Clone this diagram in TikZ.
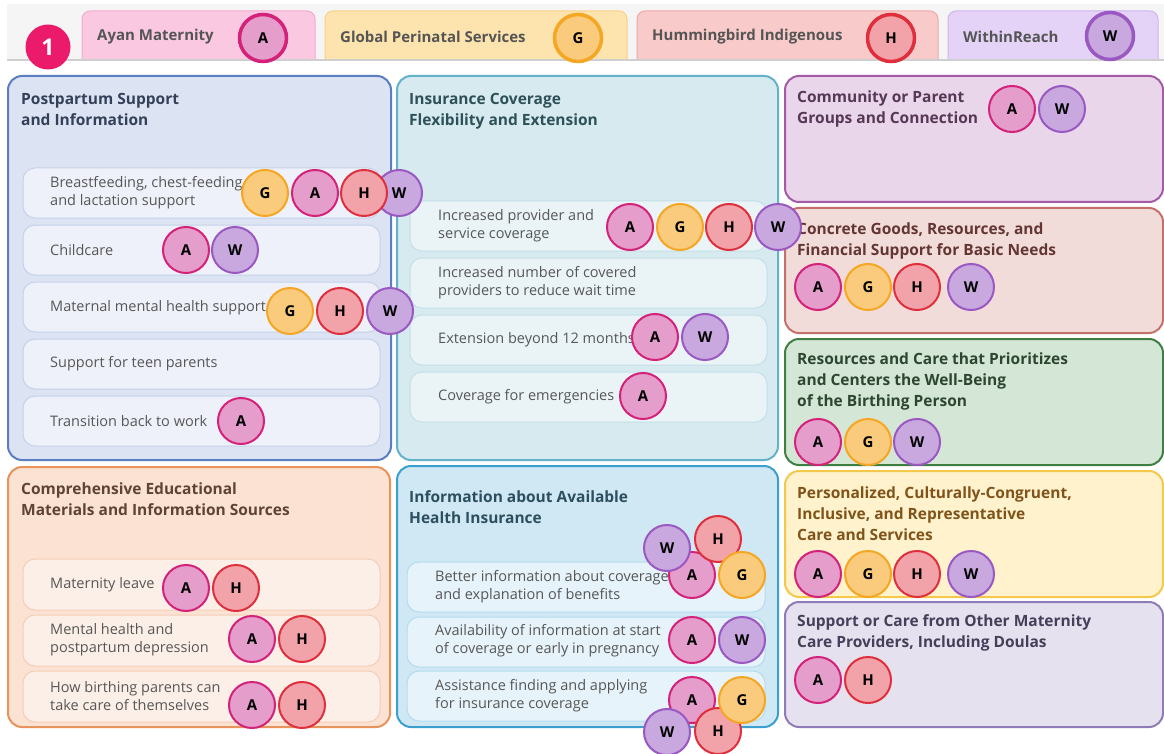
\documentclass[tikz,border=0pt]{standalone}
\usepackage{fontspec}
\setmainfont{Open Sans}

%% colours
\definecolor{bandgray}{HTML}{F5F5F5}
\definecolor{bandline}{HTML}{CFCFCF}
\definecolor{badge}{HTML}{EC1A6A}
\definecolor{itemgray}{HTML}{575757}
\definecolor{tabtext}{HTML}{555555}
%% organisation circles
\definecolor{fillA}{HTML}{E59DCB}
\definecolor{lineA}{HTML}{D42179}
\definecolor{fillG}{HTML}{FACB7C}
\definecolor{lineG}{HTML}{F5A623}
\definecolor{fillH}{HTML}{F2A3AA}
\definecolor{lineH}{HTML}{DF2F3D}
\definecolor{fillW}{HTML}{C8A8DE}
\definecolor{lineW}{HTML}{9A58C2}
%% tabs
\definecolor{tabA}{HTML}{FAC8E1}
\definecolor{tabAline}{HTML}{F4A9D0}
\definecolor{tabG}{HTML}{FDE4AE}
\definecolor{tabGline}{HTML}{F8D086}
\definecolor{tabH}{HTML}{F9CACA}
\definecolor{tabHline}{HTML}{F2A7A7}
\definecolor{tabW}{HTML}{E5D3F7}
\definecolor{tabWline}{HTML}{CEB5EE}
%% panels
\definecolor{ppFill}{HTML}{DCE3F2}
\definecolor{ppLine}{HTML}{5B7EC2}
\definecolor{ppItem}{HTML}{EEF1F9}
\definecolor{ppItemLine}{HTML}{C6D2EA}
\definecolor{ppText}{HTML}{34405A}
\definecolor{edFill}{HTML}{FBE2D2}
\definecolor{edLine}{HTML}{E8935B}
\definecolor{edItem}{HTML}{FCEFE7}
\definecolor{edItemLine}{HTML}{F3CEB7}
\definecolor{edText}{HTML}{5E4336}
\definecolor{icFill}{HTML}{D6EAF0}
\definecolor{icLine}{HTML}{63B2C8}
\definecolor{icItem}{HTML}{EAF4F7}
\definecolor{icItemLine}{HTML}{C4E0E8}
\definecolor{icText}{HTML}{2E5058}
\definecolor{hiFill}{HTML}{CFE8F4}
\definecolor{hiLine}{HTML}{3CA0CF}
\definecolor{hiItem}{HTML}{E6F3FA}
\definecolor{hiItemLine}{HTML}{B4DCEE}
\definecolor{hiText}{HTML}{2C4E5E}
\definecolor{cpFill}{HTML}{EAD6EA}
\definecolor{cpLine}{HTML}{A55AA8}
\definecolor{cpText}{HTML}{553855}
\definecolor{cgFill}{HTML}{F2DCDA}
\definecolor{cgLine}{HTML}{C4706B}
\definecolor{cgText}{HTML}{633633}
\definecolor{rcFill}{HTML}{D4E6D6}
\definecolor{rcLine}{HTML}{3F7F42}
\definecolor{rcText}{HTML}{2D4630}
\definecolor{pcFill}{HTML}{FFF2CC}
\definecolor{pcLine}{HTML}{F4C84A}
\definecolor{pcText}{HTML}{80531A}
\definecolor{scFill}{HTML}{E6E1EE}
\definecolor{scLine}{HTML}{8F7BB6}
\definecolor{scText}{HTML}{45405A}

\tikzset{
  org/.style={circle, minimum size=46pt, inner sep=0pt, line width=2pt,
    font=\bfseries\fontsize{15}{15}\selectfont, text=black},
  orgA/.style={org, draw=lineA, fill=fillA},
  orgG/.style={org, draw=lineG, fill=fillG},
  orgH/.style={org, draw=lineH, fill=fillH},
  orgW/.style={org, draw=lineW, fill=fillW},
  keyorg/.style={minimum size=47pt, line width=3.5pt},
  panel/.style={rounded corners=14pt, line width=2pt},
  pill/.style={rounded corners=12pt, line width=1pt},
  tabshape/.style={rounded corners=8pt, line width=1pt},
  heading/.style={anchor=west, align=left, inner xsep=0pt,
    font=\bfseries\fontsize{15.5}{21}\selectfont},
  itemtext/.style={anchor=west, align=left, inner xsep=0pt, text=itemgray,
    font=\fontsize{14.5}{18}\selectfont},
  tabtext/.style={anchor=west, inner xsep=0pt, text=tabtext,
    font=\bfseries\fontsize{15}{15}\selectfont},
}

\begin{document}
\begin{tikzpicture}[x=1pt, y=-1pt]
  \useasboundingbox (0,0) rectangle (1164,754);
  \fill[white] (0,0) rectangle (1164,754);

  %% Legend band
  \fill[bandgray] (7,4) rectangle (1164,60);
  \filldraw[tabshape, fill=tabA, draw=tabAline] (82,60) -- (82,11) -- (315,11) -- (315,60);
  \filldraw[tabshape, fill=tabG, draw=tabGline] (325,60) -- (325,11) -- (627,11) -- (627,60);
  \filldraw[tabshape, fill=tabH, draw=tabHline] (637,60) -- (637,11) -- (938,11) -- (938,60);
  \filldraw[tabshape, fill=tabW, draw=tabWline] (948,60) -- (948,11) -- (1158,11) -- (1158,60);
  \draw[bandline, line width=1.5pt] (7,60) -- (1164,60);
  \node[tabtext] (keyAtext) at (97,37) {Ayan Maternity};
  \node[tabtext] (keyGtext) at (340,37) {Global Perinatal Services};
  \node[tabtext] (keyHtext) at (652,37) {Hummingbird Indigenous};
  \node[tabtext] (keyWtext) at (963,37) {WithinReach};
  \node[orgA, keyorg] (keyA) at (263,38) {A};
  \node[orgG, keyorg] (keyG) at (578,38) {G};
  \node[orgH, keyorg] (keyH) at (891,38) {H};
  \node[orgW, keyorg] (keyW) at (1110,36) {W};
  \node[circle, fill=badge, minimum size=45pt, inner sep=0pt, text=white,
    font=\bfseries\fontsize{23}{23}\selectfont] (badge) at (48,47) {1};

  %% Panels
  \filldraw[panel, fill=ppFill, draw=ppLine] (8,76) rectangle (391,460);
  \filldraw[panel, fill=edFill, draw=edLine] (8,467) rectangle (390,727);
  \filldraw[panel, fill=icFill, draw=icLine] (397,76) rectangle (778,460);
  \filldraw[panel, fill=hiFill, draw=hiLine] (397,466) rectangle (778,727);
  \filldraw[panel, fill=cpFill, draw=cpLine] (785,76) rectangle (1163,202);
  \filldraw[panel, fill=cgFill, draw=cgLine] (785,208) rectangle (1163,333);
  \filldraw[panel, fill=rcFill, draw=rcLine] (785,339) rectangle (1163,465);
  \filldraw[panel, fill=pcFill, draw=pcLine] (785,471) rectangle (1163,597);
  \filldraw[panel, fill=scFill, draw=scLine] (785,602) rectangle (1163,727);

  %% Postpartum Support
  \node[heading, text=ppText] (ppTitle) at (21,109) {Postpartum Support\\and Information};
  \foreach \y in {168,225,282,339,396}
    \filldraw[pill, fill=ppItem, draw=ppItemLine] (23,\y) rectangle (380,\y+50);
  \node[itemtext] (pp1) at (50,193) {Breastfeeding, chest-feeding,\\and lactation support};
  \node[itemtext] (pp2) at (50,250) {Childcare};
  \node[itemtext] (pp3) at (50,308) {Maternal mental health support};
  \node[itemtext] (pp4) at (50,364) {Support for teen parents};
  \node[itemtext] (pp5) at (50,421) {Transition back to work};

  %% Comprehensive Educational
  \node[heading, text=edText] (edTitle) at (21,499) {Comprehensive Educational\\Materials and Information Sources};
  \foreach \y in {559,615,671}
    \filldraw[pill, fill=edItem, draw=edItemLine] (23,\y) rectangle (380,\y+51);
  \node[itemtext] (ed1) at (50,585) {Maternity leave};
  \node[itemtext] (ed2) at (50,640) {Mental health and\\postpartum depression};
  \node[itemtext] (ed3) at (50,696) {How birthing parents can\\take care of themselves};

  %% Insurance Coverage
  \node[heading, text=icText] (icTitle) at (409,111) {Insurance Coverage\\Flexibility and Extension};
  \foreach \y in {201,258,315,372}
    \filldraw[pill, fill=icItem, draw=icItemLine] (410,\y) rectangle (767,\y+50);
  \node[itemtext] (ic1) at (438,226) {Increased provider and\\service coverage};
  \node[itemtext] (ic2) at (438,283) {Increased number of covered\\providers to reduce wait time};
  \node[itemtext] (ic3) at (438,340) {Extension beyond 12 months};
  \node[itemtext] (ic4) at (438,397) {Coverage for emergencies};

  %% Information about Available Health Insurance
  \node[heading, text=hiText] (hiTitle) at (409,507) {Information about Available\\Health Insurance};
  \foreach \y in {562,617,671}
    \filldraw[pill, fill=hiItem, draw=hiItemLine] (407,\y) rectangle (765,\y+50);
  \node[itemtext] (hi1) at (435,587) {Better information about coverage\\and explanation of benefits};
  \node[itemtext] (hi2) at (435,641) {Availability of information at start\\of coverage or early in pregnancy};
  \node[itemtext] (hi3) at (435,696) {Assistance finding and applying\\for insurance coverage};

  %% Right column headings
  \node[heading, text=cpText] (cpTitle) at (797,109) {Community or Parent\\Groups and Connection};
  \node[heading, text=cgText] (cgTitle) at (797,241) {Concrete Goods, Resources, and\\Financial Support for Basic Needs};
  \node[heading, text=rcText] (rcTitle) at (797,381) {Resources and Care that Prioritizes\\and Centers the Well-Being\\of the Birthing Person};
  \node[heading, text=pcText] (pcTitle) at (797,514) {Personalized, Culturally-Congruent,\\Inclusive, and Representative\\Care and Services};
  \node[heading, text=scText] (scTitle) at (797,633) {Support or Care from Other Maternity\\Care Providers, Including Doulas};

  %% Circles: postpartum
  \node[orgW] (pp1W) at (399,193) {W};
  \node[orgG] (pp1G) at (265,193) {G};
  \node[orgA] (pp1A) at (315,193) {A};
  \node[orgH] (pp1H) at (364,193) {H};
  \node[orgA] (pp2A) at (186,250) {A};
  \node[orgW] (pp2W) at (235,250) {W};
  \node[orgG] (pp3G) at (290,311) {G};
  \node[orgH] (pp3H) at (340,311) {H};
  \node[orgW] (pp3W) at (390,311) {W};
  \node[orgA] (pp5A) at (241,421) {A};

  %% Circles: educational
  \node[orgA] (ed1A) at (186,588) {A};
  \node[orgH] (ed1H) at (236,588) {H};
  \node[orgA] (ed2A) at (252,639) {A};
  \node[orgH] (ed2H) at (302,639) {H};
  \node[orgA] (ed3A) at (252,705) {A};
  \node[orgH] (ed3H) at (302,705) {H};

  %% Circles: insurance coverage
  \node[orgA] (ic1A) at (630,227) {A};
  \node[orgG] (ic1G) at (680,227) {G};
  \node[orgH] (ic1H) at (729,227) {H};
  \node[orgW] (ic1W) at (778,227) {W};
  \node[orgA] (ic3A) at (655,337) {A};
  \node[orgW] (ic3W) at (705,337) {W};
  \node[orgA] (ic4A) at (643,396) {A};

  %% Circles: health insurance information
  \node[orgA] (hi1A) at (692,575) {A};
  \node[orgW] (hi1W) at (667,548) {W};
  \node[orgH] (hi1H) at (718,539) {H};
  \node[orgG] (hi1G) at (742,575) {G};
  \node[orgA] (hi2A) at (692,640) {A};
  \node[orgW] (hi2W) at (742,640) {W};
  \node[orgA] (hi3A) at (692,700) {A};
  \node[orgW] (hi3W) at (667,732) {W};
  \node[orgH] (hi3H) at (718,731) {H};
  \node[orgG] (hi3G) at (742,700) {G};

  %% Circles: right column
  \node[orgA] (cpA) at (1012,109) {A};
  \node[orgW] (cpW) at (1062,109) {W};
  \node[orgA] (cgA) at (818,287) {A};
  \node[orgG] (cgG) at (868,287) {G};
  \node[orgH] (cgH) at (917,287) {H};
  \node[orgW] (cgW) at (971,287) {W};
  \node[orgA] (rcA) at (818,442) {A};
  \node[orgG] (rcG) at (868,442) {G};
  \node[orgW] (rcW) at (917,442) {W};
  \node[orgA] (pcA) at (818,574) {A};
  \node[orgG] (pcG) at (868,574) {G};
  \node[orgH] (pcH) at (917,574) {H};
  \node[orgW] (pcW) at (971,574) {W};
  \node[orgA] (scA) at (818,680) {A};
  \node[orgH] (scH) at (868,680) {H};
\end{tikzpicture}
\end{document}
